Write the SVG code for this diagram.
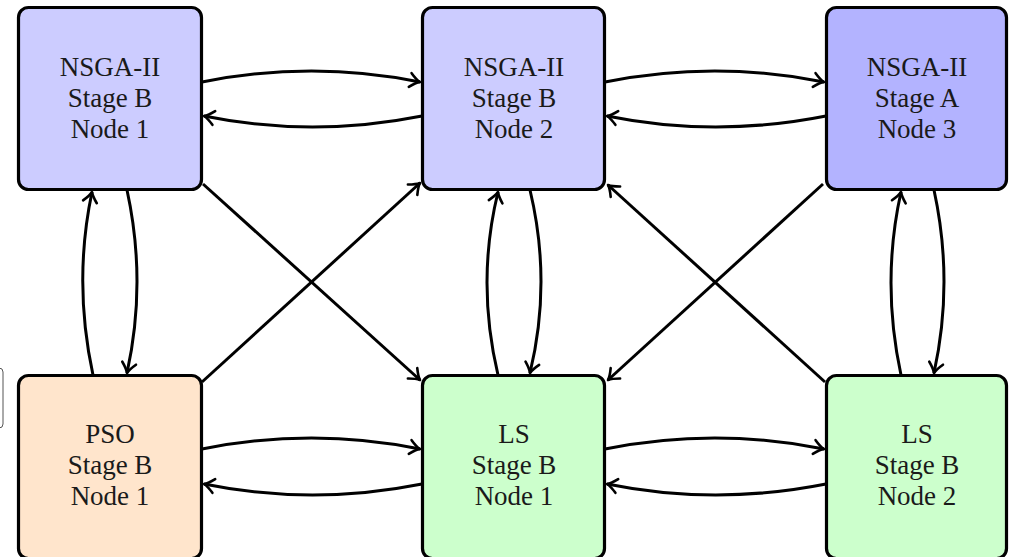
<svg xmlns="http://www.w3.org/2000/svg" width="1009" height="557" viewBox="0 0 1009 557">
<style>
  .box { stroke: #000; stroke-width: 3.2; }
  .nsgaB { fill: #ccccff; }
  .nsgaA { fill: #b3b3ff; }
  .pso { fill: #ffe5cc; }
  .ls { fill: #ccffcc; }
  .lbl { font-family: "Liberation Serif", "DejaVu Serif", serif; font-size: 27px; fill: #1a1a1a; text-anchor: middle; }
  .edge { fill: none; stroke: #000; stroke-width: 3; marker-end: url(#arr); }
</style>
<defs>
  <marker id="arr" markerUnits="userSpaceOnUse" markerWidth="20" markerHeight="20" viewBox="-12 -10 14 20" refX="0" refY="0" orient="auto">
    <path d="M-10,-7 Q-4,-1.5 0,0 Q-4,1.5 -10,7" fill="none" stroke="#000" stroke-width="2.6" stroke-linecap="round" stroke-linejoin="round"/>
  </marker>
</defs>
<rect width="1009" height="557" fill="#fff"/>
<rect x="-20" y="368" width="23" height="60" rx="4" fill="none" stroke="#555" stroke-width="1"/>
<g id="connectors">
  <path class="edge" d="M202,82 Q312,60 420,82"/>
  <path class="edge" d="M422,116 Q312,138 204,116"/>
  <path class="edge" d="M605,82 Q715,60 824,82"/>
  <path class="edge" d="M826,116 Q715,138 607,116"/>
  <path class="edge" d="M202,449 Q312,427 420,449"/>
  <path class="edge" d="M422,484 Q312,506 204,484"/>
  <path class="edge" d="M605,449 Q715,427 824,449"/>
  <path class="edge" d="M826,484 Q715,506 607,484"/>
  <path class="edge" d="M93,375 Q73,282 92,192"/>
  <path class="edge" d="M127,190 Q147,282 127,373"/>
  <path class="edge" d="M498,375 Q476,282 498,192"/>
  <path class="edge" d="M530,190 Q552,282 530,373"/>
  <path class="edge" d="M901,375 Q881,282 901,192"/>
  <path class="edge" d="M934,190 Q954,282 934,373"/>
  <path class="edge" d="M203,184 L420,380"/>
  <path class="edge" d="M202,382 L420,183"/>
  <path class="edge" d="M825,382 L608,185"/>
  <path class="edge" d="M823,184 L608,380"/>
</g>
<g id="n1">
  <rect class="box nsgaB" x="18.5" y="7.5" width="183" height="182" rx="10"/>
  <text class="lbl" x="110" y="76">NSGA-II</text>
  <text class="lbl" x="110" y="107">Stage B</text>
  <text class="lbl" x="110" y="138">Node 1</text>
</g>
<g id="n2">
  <rect class="box nsgaB" x="422.5" y="7.5" width="182" height="182" rx="10"/>
  <text class="lbl" x="514" y="76">NSGA-II</text>
  <text class="lbl" x="514" y="107">Stage B</text>
  <text class="lbl" x="514" y="138">Node 2</text>
</g>
<g id="n3">
  <rect class="box nsgaA" x="826.5" y="7.5" width="180" height="182" rx="10"/>
  <text class="lbl" x="917" y="76">NSGA-II</text>
  <text class="lbl" x="917" y="107">Stage A</text>
  <text class="lbl" x="917" y="138">Node 3</text>
</g>
<g id="pso1">
  <rect class="box pso" x="18.5" y="375.5" width="183" height="183" rx="10"/>
  <text class="lbl" x="110" y="443">PSO</text>
  <text class="lbl" x="110" y="474">Stage B</text>
  <text class="lbl" x="110" y="505">Node 1</text>
</g>
<g id="ls1">
  <rect class="box ls" x="422.5" y="375.5" width="182" height="183" rx="10"/>
  <text class="lbl" x="514" y="443">LS</text>
  <text class="lbl" x="514" y="474">Stage B</text>
  <text class="lbl" x="514" y="505">Node 1</text>
</g>
<g id="ls2">
  <rect class="box ls" x="826.5" y="375.5" width="180" height="183" rx="10"/>
  <text class="lbl" x="917" y="443">LS</text>
  <text class="lbl" x="917" y="474">Stage B</text>
  <text class="lbl" x="917" y="505">Node 2</text>
</g>
</svg>
